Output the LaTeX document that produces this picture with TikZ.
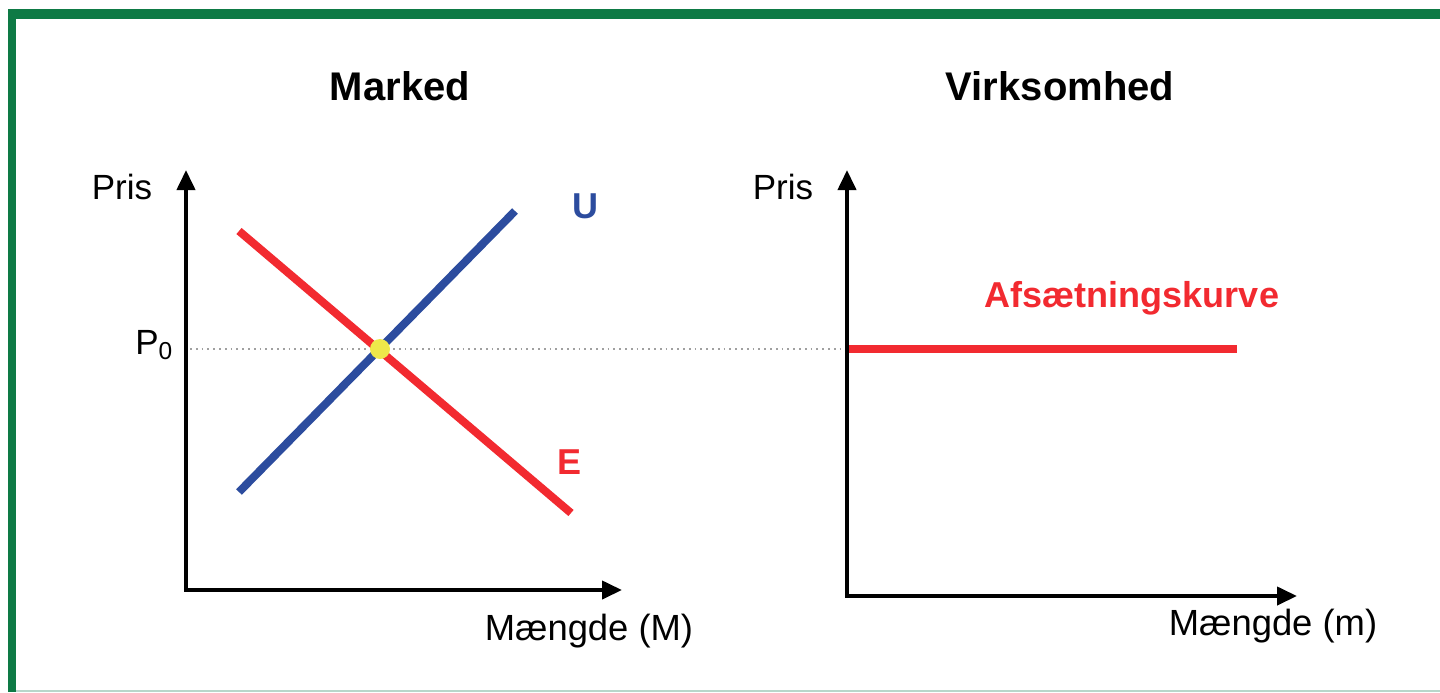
\documentclass[tikz,border=0pt]{standalone}
\usepackage{fontspec}
\setmainfont{Liberation Sans}
\usetikzlibrary{arrows.meta}
\definecolor{frameGreen}{HTML}{0E7A45}
\definecolor{curveRed}{HTML}{F22A30}
\definecolor{curveBlue}{HTML}{2C4C9E}
\definecolor{dotYellow}{HTML}{EEE84A}
\definecolor{guideGray}{HTML}{A0A0A0}
\definecolor{edgeLight}{HTML}{B8D6CA}
\tikzset{
  axisline/.style={line width=2pt, black, {Triangle[length=10pt,width=9pt]}-{Triangle[length=10pt,width=9pt]}},
  curve/.style={line width=4pt},
  title/.style={font=\fontsize{20pt}{24pt}\selectfont\bfseries, anchor=base, inner sep=0pt},
  axlabel/.style={font=\fontsize{17.5pt}{21pt}\selectfont, anchor=base, inner sep=0pt},
  qlabel/.style={font=\fontsize{18.2pt}{22pt}\selectfont, anchor=base, inner sep=0pt},
  curvelabel/.style={font=\fontsize{18pt}{22pt}\selectfont\bfseries, anchor=base, inner sep=0pt},
}
\begin{document}
\begin{tikzpicture}[x=0.5pt,y=-0.5pt]
\useasboundingbox (0,0) rectangle (1440,692);
% frame
\fill[frameGreen] (8,9) rectangle (1440,19);
\fill[frameGreen] (8,9) rectangle (16,692);
\draw[edgeLight, line width=0.6pt] (16,691) -- (1440,691);
% titles
\node[title] (tM) at (400,100) {Marked};
\node[title] (tV) at (1060,100) {Virksomhed};
% left axes
\coordinate (Ly) at (186,170);
\coordinate (Lo) at (186,590);
\coordinate (Lx) at (622,590);
% right axes
\coordinate (Ry) at (847,170);
\coordinate (Ro) at (847,596);
\coordinate (Rx) at (1297,596);
% guide line
\coordinate (P0l) at (190,349);
\coordinate (P0r) at (847,349);
\draw[guideGray, line width=0.9pt, dotted] (P0l) -- (P0r);
% curves
\coordinate (E1) at (239,231);
\coordinate (E2) at (571,513);
\coordinate (U1) at (239,492);
\coordinate (U2) at (515,211);
\coordinate (A1) at (847,349);
\coordinate (A2) at (1237,349);
\draw[curve, curveRed] (E1) -- (E2);
\draw[curve, curveBlue] (U1) -- (U2);
\draw[curve, curveRed] (A1) -- (A2);
\fill[dotYellow] (380,349) circle (10);
\node[inner sep=0pt] (eq) at (380,349) {};
% axes
\draw[axisline] (Ly) -- (Lo) -- (Lx);
\draw[axisline] (Ry) -- (Ro) -- (Rx);
% labels
\node[axlabel] (pl) at (122,199) {Pris};
\node[axlabel] (pr) at (783,199) {Pris};
\node[axlabel, anchor=base west] (p0) at (135,354) {P\textsubscript{0}};
\node[qlabel] (ml) at (589,640) {Mængde (M)};
\node[qlabel] (mr) at (1273,635) {Mængde (m)};
\node[curvelabel, text=curveBlue] (lu) at (585,218) {U};
\node[curvelabel, text=curveRed] (le) at (569,474) {E};
\node[curvelabel, text=curveRed] (la) at (1132,307) {Afsætningskurve};
\end{tikzpicture}
\end{document}
